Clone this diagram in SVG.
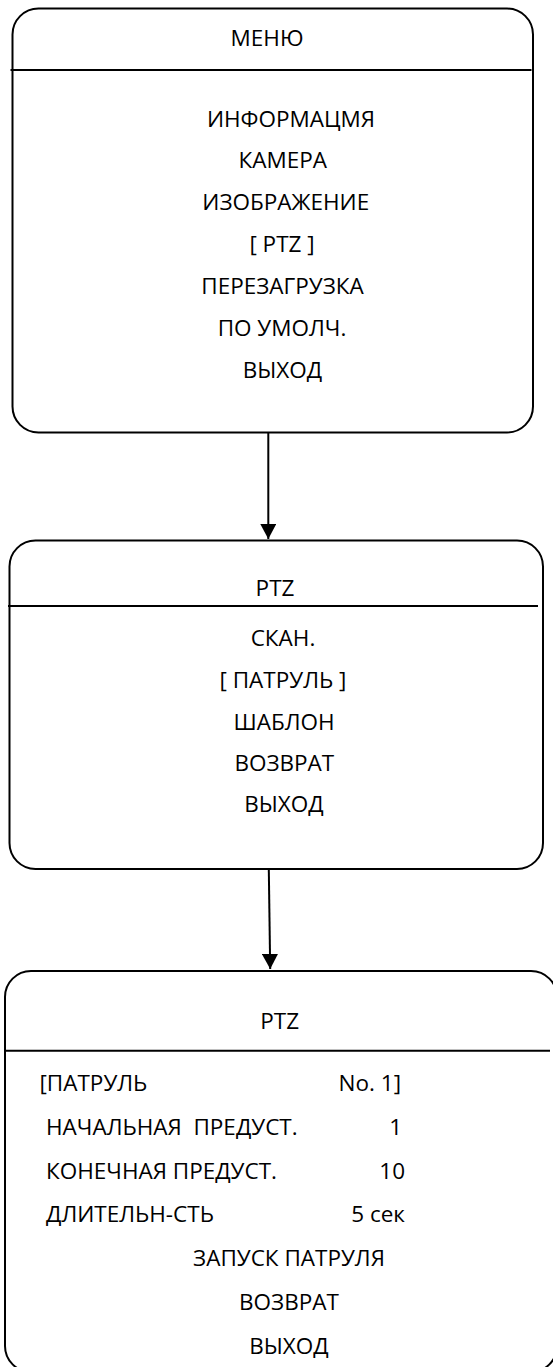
<svg xmlns="http://www.w3.org/2000/svg" width="553" height="1367" viewBox="0 0 553 1367">
<defs>
<style>
.box{fill:#fff;stroke:#000;stroke-width:2}
.div{stroke:#000;stroke-width:2}
.t{font-family:"Open Sans","Noto Sans","DejaVu Sans",sans-serif;font-size:22.5px;fill:#000;white-space:pre}
.c{text-anchor:middle}
.e{text-anchor:end}
.conn{stroke:#000;stroke-width:2;fill:none}
</style>
<marker id="ah" markerUnits="userSpaceOnUse" markerWidth="16" markerHeight="16" viewBox="0 0 16 16" refX="15" refY="8" orient="auto">
<path d="M0,0 L15,8 L0,16 Z" fill="#000"/>
</marker>
</defs>
<rect width="553" height="1367" fill="#fff"/>
<g id="connectors">
<line class="conn" x1="268.3" y1="433" x2="268.3" y2="539" marker-end="url(#ah)"/>
<line class="conn" x1="268.8" y1="869" x2="270.2" y2="969" marker-end="url(#ah)"/>
</g>
<g id="menu">
<rect class="box" x="12.5" y="8.5" width="520.5" height="424" rx="26"/>
<line class="div" x1="10.5" y1="70" x2="531.5" y2="70"/>
<text class="t c" x="267" y="46">МЕНЮ</text>
<text class="t c" x="291" y="126.7">ИНФОРМАЦМЯ</text>
<text class="t c" x="282.7" y="168.3">КАМЕРА</text>
<text class="t c" x="285.8" y="210">ИЗОБРАЖЕНИЕ</text>
<text class="t c" x="282" y="252">[ PTZ ]</text>
<text class="t c" x="282.5" y="294.3">ПЕРЕЗАГРУЗКА</text>
<text class="t c" x="282" y="335.5">ПО УМОЛЧ.</text>
<text class="t c" x="282.5" y="377.7">ВЫХОД</text>
</g>
<g id="ptz">
<rect class="box" x="9.5" y="540.5" width="533.5" height="328.5" rx="26"/>
<line class="div" x1="8" y1="606" x2="538" y2="606"/>
<text class="t c" x="275" y="596">PTZ</text>
<text class="t c" x="283" y="646">СКАН.</text>
<text class="t c" x="283" y="688.3">[ ПАТРУЛЬ ]</text>
<text class="t c" x="284" y="729.6">ШАБЛОН</text>
<text class="t c" x="284.3" y="771">ВОЗВРАТ</text>
<text class="t c" x="284" y="811.7">ВЫХОД</text>
</g>
<g id="patrol">
<rect class="box" x="5" y="971" width="552" height="401" rx="26"/>
<line class="div" x1="4" y1="1050.7" x2="550" y2="1050.7"/>
<text class="t c" x="279.7" y="1029">PTZ</text>
<text class="t" x="39.5" y="1091">[ПАТРУЛЬ</text>
<text class="t e" x="401" y="1091">No. 1]</text>
<text class="t" x="46" y="1134.8">НАЧАЛЬНАЯ  ПРЕДУСТ.</text>
<text class="t e" x="402" y="1134.8">1</text>
<text class="t" x="46" y="1178.6">КОНЕЧНАЯ ПРЕДУСТ.</text>
<text class="t e" x="405" y="1178.6">10</text>
<text class="t" x="46" y="1222.4">ДЛИТЕЛЬН-СТЬ</text>
<text class="t e" x="405" y="1222.4">5 сек</text>
<text class="t c" x="289" y="1266.2">ЗАПУСК ПАТРУЛЯ</text>
<text class="t c" x="289" y="1310">ВОЗВРАТ</text>
<text class="t c" x="289" y="1353.8">ВЫХОД</text>
</g>
</svg>
